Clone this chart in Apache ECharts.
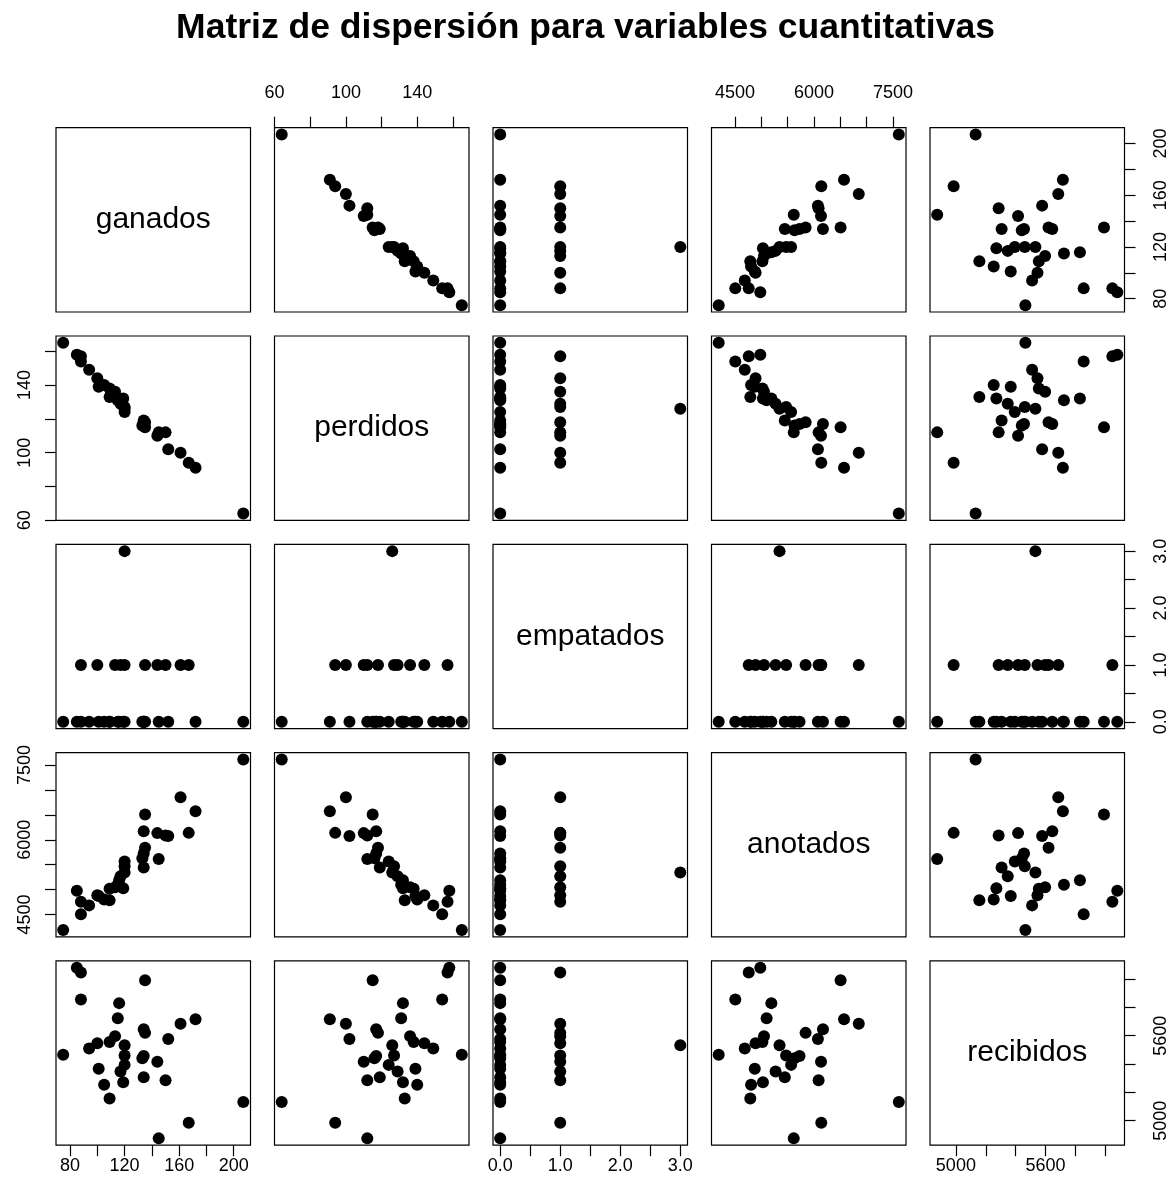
<!DOCTYPE html>
<html><head><meta charset="utf-8">
<script src="https://cdn.jsdelivr.net/npm/echarts@6/dist/echarts.min.js"></script>
<style>html,body{margin:0;padding:0;background:#fff}#c{width:1171px;height:1193px}</style>
</head><body><div id="c"></div>
<script>
// ---- data (one entry per team) ----
const varNames = ['ganados', 'perdidos', 'empatados', 'anotados', 'recibidos'];
const ganados   = [75, 85, 88, 88, 94, 100, 101, 105, 109, 109, 113, 115, 116, 117, 119, 120, 120, 120, 134, 133, 134, 135, 134, 135, 144, 145, 150, 152, 161, 167, 172, 207];
const perdidos  = [165, 158, 157, 154, 149, 144, 139, 140, 133, 138, 136, 131, 132, 129, 132, 126, 127, 124, 119, 116, 117, 118, 117, 115, 110, 112, 112, 102, 100, 94, 91, 64];
const empatados = [0, 0, 1, 0, 0, 1, 0, 0, 0, 0, 1, 0, 0, 1, 0, 3, 1, 0, 0, 0, 0, 1, 0, 0, 1, 0, 1, 0, 1, 1, 0, 0];
const anotados  = [4190, 4980, 4760, 4505, 4685, 4890, 4875, 4805, 4790, 5020, 5050, 5100, 5190, 5270, 5030, 5345, 5470, 5565, 5445, 5630, 5725, 5840, 6170, 6505, 6133, 5615, 6087, 6074, 6850, 6138, 6570, 7610];
const recibidos = [5465, 6080, 6047, 5855, 5510, 5546, 5367, 5253, 5157, 5555, 5597, 5723, 5830, 5347, 5271, 5532, 5461, 5394, 5306, 5441, 5456, 5620, 5645, 5991, 5416, 4875, 5286, 5577, 5685, 4985, 5716, 5132];

// ---- tick marks and tick labels ----
const ganadosTicks   = [80, 100, 120, 140, 160, 180, 200];
const ganadosLabels  = [80, 120, 160, 200];
const perdidosTicks  = [60, 80, 100, 120, 140, 160];
const perdidosLabels = [60, 100, 140];
const empatadosTicks = [0, 0.5, 1, 1.5, 2, 2.5, 3];
const empatadosLabels = [0, 1, 2, 3];
const anotadosTicks  = [4500, 5000, 5500, 6000, 6500, 7000, 7500];
const anotadosLabels = [4500, 6000, 7500];
const recibidosTicks = [5000, 5200, 5400, 5600, 5800, 6000];
const recibidosLabels = [5000, 5600];

const values = {ganados, perdidos, empatados, anotados, recibidos};
const ticks = {ganados: ganadosTicks, perdidos: perdidosTicks, empatados: empatadosTicks, anotados: anotadosTicks, recibidos: recibidosTicks};
const labels = {ganados: ganadosLabels, perdidos: perdidosLabels, empatados: empatadosLabels, anotados: anotadosLabels, recibidos: recibidosLabels};

// ---- layout ----
const FONT = 'Liberation Sans, Arial, Helvetica, sans-serif';
const PL = 56, PT = 127.7, PW = 194.5, PH = 184.3, SX = 218.5, SY = 208.3;
const n = varNames.length;

function range(v) {
  const mn = Math.min(...values[v]), mx = Math.max(...values[v]);
  const ext = (mx - mn) * 0.04;
  return [mn - ext, mx + ext];
}
function fmt(v) { return (name) => v === 'empatados' ? Number(name).toFixed(1) : String(name); }

const grids = [], xAxes = [], yAxes = [], series = [], graphics = [];
for (let i = 0; i < n; i++) {
  for (let j = 0; j < n; j++) {
    const k = i * n + j;
    const left = PL + j * SX, top = PT + i * SY;
    grids.push({left, top, width: PW, height: PH, show: true, borderColor: '#000', borderWidth: 1.2, backgroundColor: 'transparent'});
    const xv = varNames[j], yv = varNames[i];
    const xr = range(xv), yr = range(yv);
    const showX = (i === 0 && j % 2 === 1) || (i === n - 1 && j % 2 === 0);
    const showY = (j === 0 && i % 2 === 1) || (j === n - 1 && i % 2 === 0);
    xAxes.push({
      gridIndex: k, type: 'value', min: xr[0], max: xr[1],
      position: i === 0 ? 'top' : 'bottom',
      axisLine: {show: false}, splitLine: {show: false},
      axisTick: {show: showX, inside: false, length: 11, lineStyle: {color: '#000', width: 1.2}, customValues: ticks[xv]},
      axisLabel: {show: showX, customValues: labels[xv], formatter: fmt(xv), margin: i === 0 ? 26 : 12,
                  fontSize: 18, color: '#000', fontFamily: FONT}
    });
    yAxes.push({
      gridIndex: k, type: 'value', min: yr[0], max: yr[1],
      position: j === 0 ? 'left' : 'right',
      axisLine: {show: false}, splitLine: {show: false},
      axisTick: {show: showY, inside: false, length: 11, lineStyle: {color: '#000', width: 1.2}, customValues: ticks[yv]},
      axisLabel: {show: showY, customValues: labels[yv], formatter: fmt(yv), rotate: 90, margin: j === 0 ? 22 : 28,
                  fontSize: 18, color: '#000', fontFamily: FONT}
    });
    if (i === j) {
      graphics.push({type: 'text', x: left + PW / 2, y: top + PH / 2,
        style: {text: varNames[i], fontSize: 30, fontFamily: FONT, fill: '#000', align: 'center', verticalAlign: 'middle'}});
    } else {
      series.push({
        type: 'scatter', xAxisIndex: k, yAxisIndex: k, symbol: 'circle', symbolSize: 12,
        itemStyle: {color: '#000', opacity: 1}, silent: true, animation: false,
        data: values[xv].map((x, t) => [x, values[yv][t]])
      });
    }
  }
}

const chart = echarts.init(document.getElementById('c'), null, {renderer: 'canvas'});
chart.setOption({
  backgroundColor: '#fff',
  animation: false,
  title: {text: 'Matriz de dispersión para variables cuantitativas', left: 'center', top: 5,
          textStyle: {fontSize: 35.5, fontWeight: 'bold', fontFamily: FONT, color: '#000'}},
  grid: grids, xAxis: xAxes, yAxis: yAxes, series, graphic: graphics
});
</script></body></html>
